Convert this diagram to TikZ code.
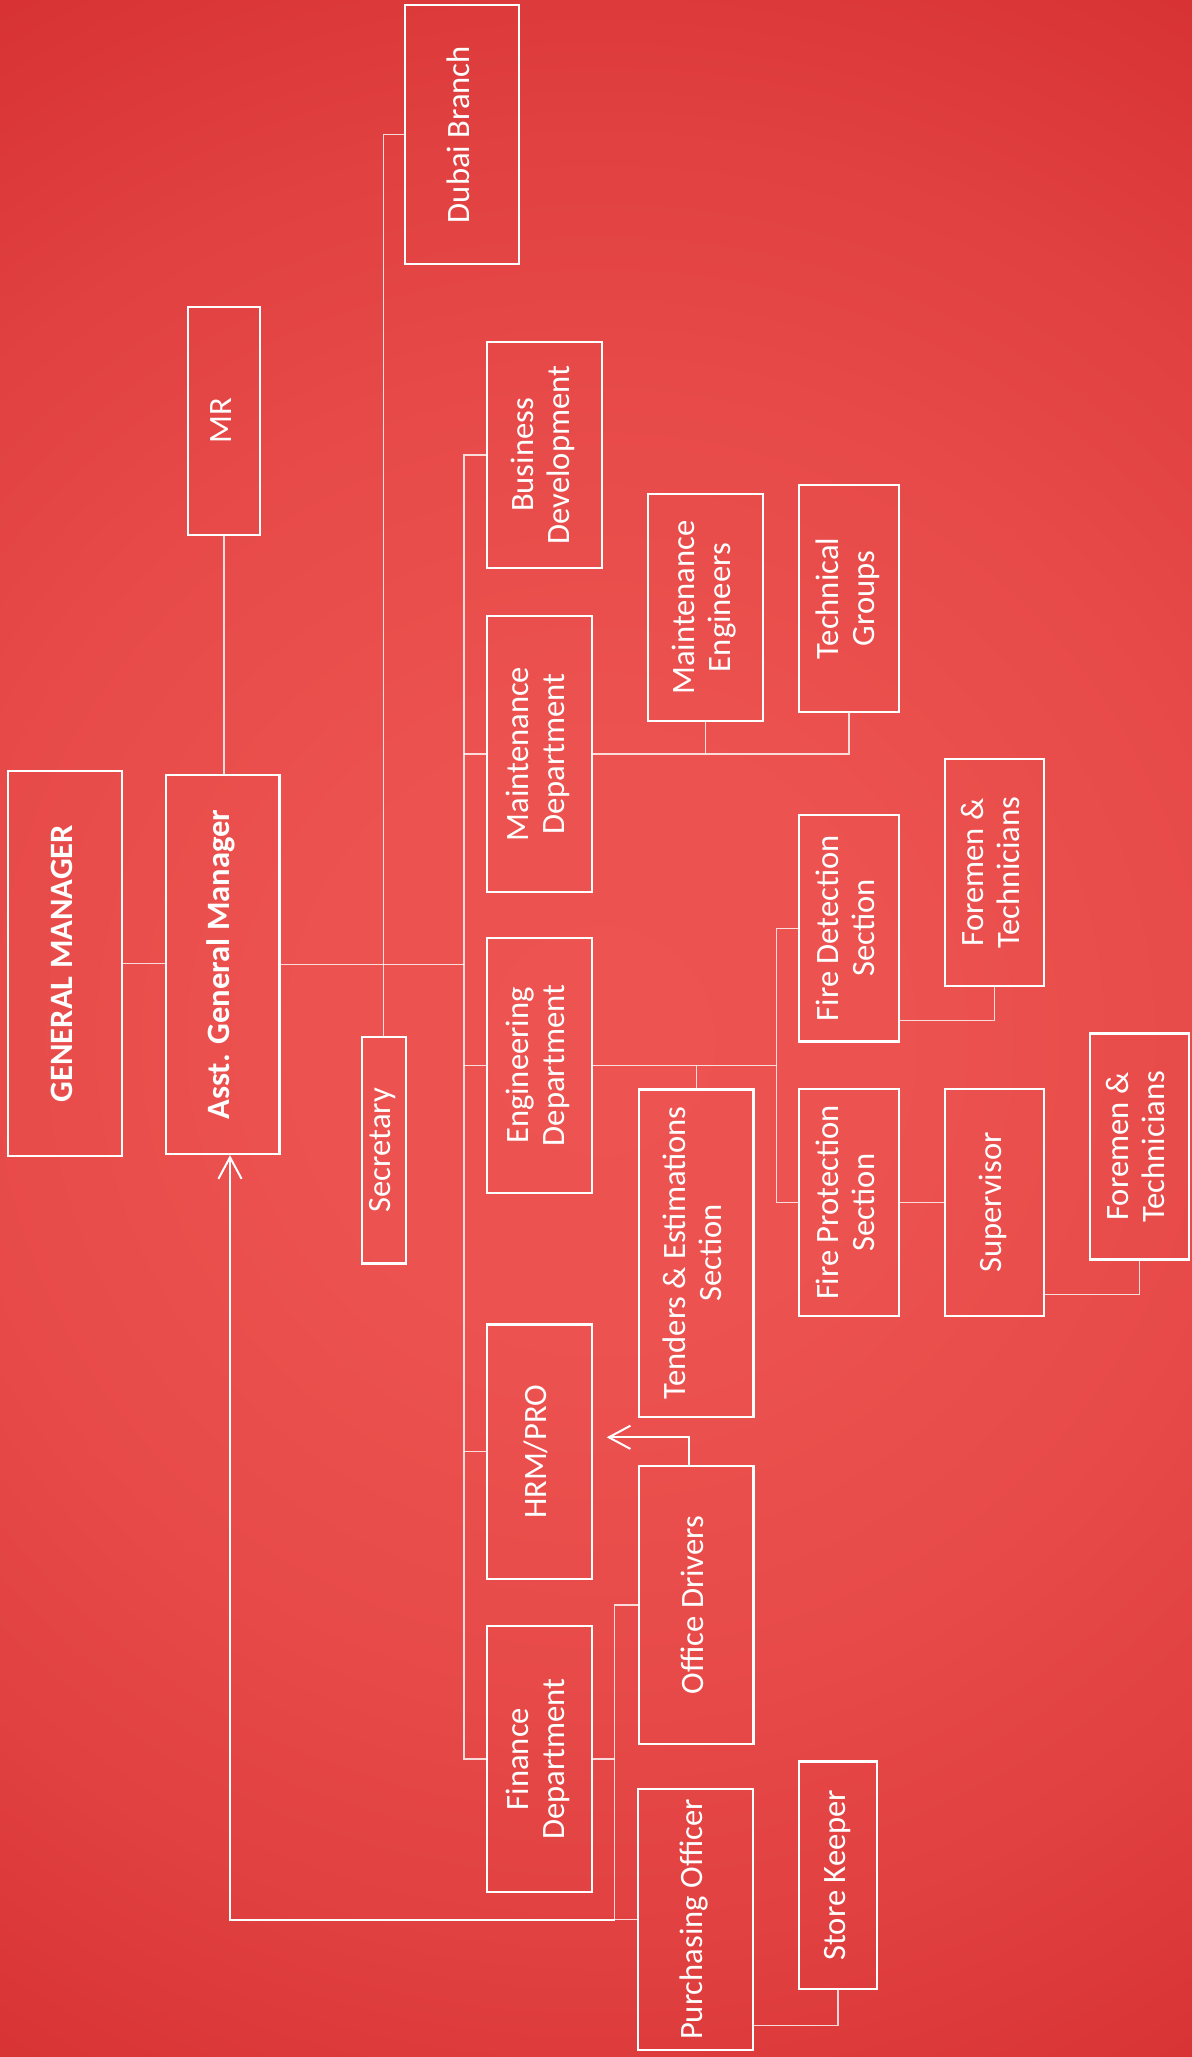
\documentclass[tikz,border=0pt]{standalone}
\usepackage{fontspec}
\setmainfont{Carlito}
\usetikzlibrary{arrows.meta,calc}
\definecolor{bgin}{RGB}{237,84,81}
\definecolor{bgout}{RGB}{215,49,51}
\colorlet{bgA}{bgout!6!bgin}
\colorlet{bgB}{bgout!25!bgin}
\colorlet{bgC}{bgout!56!bgin}
\pgfdeclareradialshading{bgshade}{\pgfpoint{0bp}{0bp}}{color(0bp)=(bgin); color(6.25bp)=(bgA); color(12.5bp)=(bgB); color(18.75bp)=(bgC); color(25bp)=(bgout); color(50bp)=(bgout)}
\newcommand{\rt}[1]{\rotatebox{90}{\begin{tabular}{@{}c@{}}#1\end{tabular}}}
\begin{document}
\begin{tikzpicture}[x=0.5pt, y=-0.5pt,
  box/.style 2 args={draw=white, line width=1.15pt, inner sep=0pt, text=white,
    font=\fontsize{16.3}{18.2}\selectfont, minimum width=#1*0.5pt, minimum height=#2*0.5pt},
  conn/.style={draw=white, draw opacity=0.8, line width=0.6pt},
  arr/.style={draw=white, line width=1pt, -{Straight Barb[length=10.8pt,width=11.6pt]}}]
\useasboundingbox (0,0) rectangle (1192,2057);
\fill[bgout] (0,0) rectangle (1192,2057);
\begin{scope}
\clip (0,0) rectangle (1192,2057);
\shade[shading=bgshade] (600,1040) circle [radius=1215];
\end{scope}
% nodes
\node[box={114}{385}] (gm) at (65,963.5) {\rt{\textbf{GENERAL MANAGER}}};
\node[box={113.3}{379}] (agm) at (222.7,964.5) {\rt{\textbf{Asst. General Manager}}};
\node[box={72}{228}] (mr) at (224,421) {\rt{MR}};
\node[box={44}{226.8}] (sec) at (383.7,1150.1) {\rt{Secretary}};
\node[box={114}{259}] (dubai) at (462,134.7) {\rt{Dubai Branch}};
\node[box={115}{226}] (bd) at (544.5,455) {\rt{Business\\Development}};
\node[box={104.4}{276}] (maint) at (539.5,754) {\rt{Maintenance\\Department}};
\node[box={104.4}{255}] (eng) at (539.5,1065.5) {\rt{Engineering\\Department}};
\node[box={104.4}{254.4}] (hrm) at (539.5,1451.8) {\rt{HRM/PRO}};
\node[box={104.4}{266}] (fin) at (539.5,1759) {\rt{Finance\\Department}};
\node[box={115}{227}] (me) at (705.5,607.5) {\rt{Maintenance\\Engineers}};
\node[box={100}{227}] (tg) at (849,598.5) {\rt{Technical\\Groups}};
\node[box={100}{226.5}] (fd) at (849,928.2) {\rt{Fire Detection\\Section}};
\node[box={99}{227}] (ft1) at (994.5,872.5) {\rt{Foremen \&\\Technicians}};
\node[box={114.3}{327.3}] (tend) at (696.2,1253) {\rt{Tenders \& Estimations\\Section}};
\node[box={100}{227}] (fp) at (849,1202.5) {\rt{Fire Protection\\Section}};
\node[box={99}{227}] (sup) at (994.5,1202.5) {\rt{Supervisor}};
\node[box={99}{226}] (ft2) at (1139.5,1146.6) {\rt{Foremen \&\\Technicians}};
\node[box={114.3}{278.6}] (od) at (696.2,1605) {\rt{Office Drivers}};
\node[box={115}{261}] (po) at (695.2,1919.5) {\rt{Purchasing Officer}};
\node[box={78}{227.5}] (sk) at (838,1875.2) {\rt{Store Keeper}};
% junction coordinates
\coordinate (bus) at (464,964.5);
\coordinate (ej) at (776.5,1065.5);
\coordinate (fj) at (614.8,1759);
\coordinate (hrmtip) at (606.7,1437.3);
% connectors
\draw[conn] (gm.east) -- (gm.east -| agm.west);
\draw[conn] (mr.south) -- (mr.south |- agm.north);
\draw[conn] (agm.east) -- (bus);
\draw[conn] (bd.west) -| (bus) |- (fin.west);
\foreach \n in {maint,eng,hrm} \draw[conn] (\n.west) -- (\n.west -| bus);
\draw[conn] (dubai.west) -| (sec.north);
\draw[conn] (maint.east) -| (tg.south);
\draw[conn] (me.south) -- (me.south |- maint.east);
\draw[conn] (eng.east) -- (ej);
\draw[conn] (fd.west) -| (ej) |- (fp.west);
\draw[conn] (tend.north) -- (tend.north |- eng.east);
\draw[conn] ([yshift=11.25pt]fd.south east) -| (ft1.south);
\draw[conn] (fp.east) -- (sup.west);
\draw[conn] ([yshift=11.5pt]sup.south east) -| (ft2.south);
\draw[conn] (od.west) -| (fj) |- (po.west);
\draw[conn] (fin.east) -- (fj);
\draw[conn] ([yshift=13pt]po.south east) -| (sk.south);
\draw[arr] ([xshift=-3.45pt]od.north) |- (hrmtip);
\draw[arr] (fj |- po.west) -| ([xshift=3.65pt]agm.south);
\end{tikzpicture}
\end{document}
